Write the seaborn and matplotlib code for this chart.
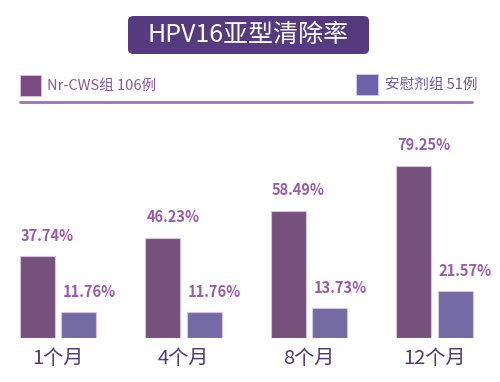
import numpy as np
import pandas as pd
import matplotlib
matplotlib.use('Agg')
import matplotlib.pyplot as plt
from matplotlib.patches import FancyBboxPatch, Rectangle
from matplotlib.lines import Line2D
import seaborn as sns

months = ["1个月", "4个月", "8个月", "12个月"]
groups = ["Nr-CWS组 106例", "安慰剂组 51例"]
nr_cws = [37.74, 46.23, 58.49, 79.25]
placebo = [11.76, 11.76, 13.73, 21.57]

purple = "#7a4a82"
blue = "#6e62ad"
label_color = "#9a5aab"
dark = "#4e3a78"

sns.set_theme(style="white")
plt.rcParams['font.family'] = ['Noto Sans CJK SC', 'DejaVu Sans']

df = pd.DataFrame({
    "month": months * 2,
    "group": [groups[0]] * 4 + [groups[1]] * 4,
    "value": nr_cws + placebo,
})

fig = plt.figure(figsize=(5, 3.82), dpi=100)
ax = fig.add_axes([15 / 500, 44 / 382, 463 / 500, 228 / 382])
sns.barplot(data=df, x="month", y="value", hue="group", order=months,
            hue_order=groups, palette=[purple, blue], width=0.66, gap=0.15,
            edgecolor="#d9c4de", linewidth=0.8, legend=False, ax=ax)

ax.set_xlim(-0.343, 3.347)
ax.set_ylim(0, 105)
for s in ax.spines.values():
    s.set_visible(False)
ax.set_yticks([])
ax.set_xlabel("")
ax.set_ylabel("")
ax.tick_params(axis="x", length=0, pad=7)
ax.set_xticklabels(months, fontsize=14.5, color=dark)

# value labels, left aligned at bar left edge
for cont in ax.containers:
    for bar in cont:
        h = bar.get_height()
        ax.annotate(f"{h:.2f}%", (bar.get_x(), h), xytext=(1, 9),
                    textcoords="offset points", ha="left", va="bottom",
                    fontsize=10.5, color=label_color, fontweight="bold")

# title box
fig.patches.append(FancyBboxPatch((128 / 500, 1 - 54 / 382), 241 / 500, 38 / 382,
                                  boxstyle="round,pad=0,rounding_size=0.012",
                                  transform=fig.transFigure, facecolor="#563a7f",
                                  edgecolor="none"))
fig.text(248.5 / 500, 1 - 35 / 382, "HPV16亚型清除率", ha="center", va="center",
         color="white", fontsize=18)

# legend
fig.patches.append(Rectangle((20 / 500, 1 - 96 / 382), 21 / 500, 21 / 382,
                             transform=fig.transFigure, facecolor=purple,
                             edgecolor="#d9c4de", linewidth=0.6))
fig.text(47 / 500, 1 - 86 / 382, groups[0], ha="left", va="center",
         color="#8a5a9e", fontsize=10.5)
fig.patches.append(Rectangle((356 / 500, 1 - 95 / 382), 22 / 500, 21 / 382,
                             transform=fig.transFigure, facecolor=blue,
                             edgecolor="#d5cdea", linewidth=0.6))
fig.text(385 / 500, 1 - 85 / 382, groups[1], ha="left", va="center",
         color="#6c5a9e", fontsize=10.5)
fig.lines.append(Line2D([20 / 500, 472 / 500], [1 - 102 / 382, 1 - 102 / 382],
                        transform=fig.transFigure, color="#9b72b3", linewidth=2))

fig.savefig("out.png", dpi=100)
